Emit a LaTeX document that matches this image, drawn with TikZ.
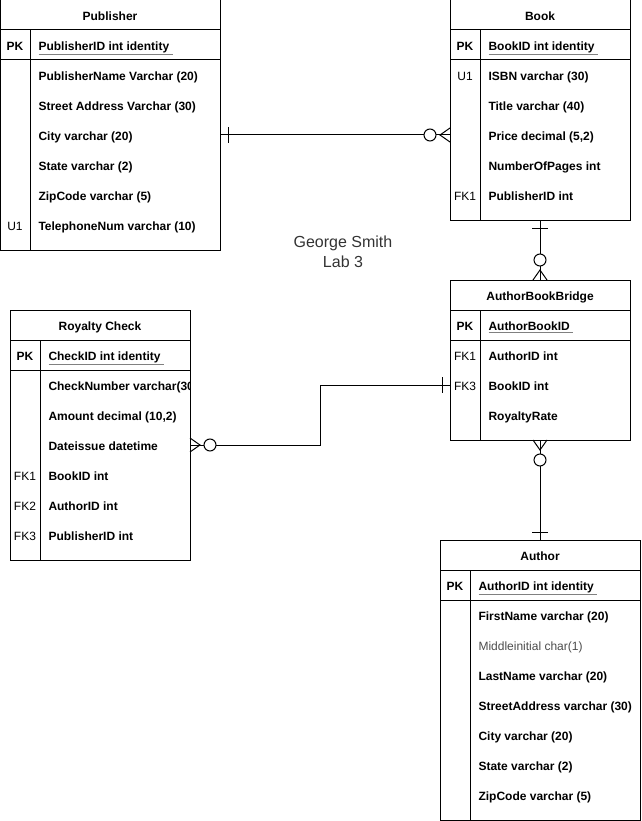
\documentclass[tikz,border=0pt]{standalone}
\usepackage{fontspec}
\setmainfont{Liberation Sans}
\newcommand{\pkname}[1]{{\color{black!50}\underline{\color{black}#1\ }}}
\tikzset{
  tbl/.style={draw, anchor=north west, inner sep=0pt, outer sep=0pt},
  txt/.style={inner sep=0pt, text height=11pt, text depth=0pt, font=\fontsize{12}{14}\selectfont},
  hdr/.style={txt, font=\fontsize{12}{14}\selectfont\bfseries},
  fld/.style={txt, anchor=west, font=\fontsize{12}{14}\selectfont\bfseries},
  keycol/.style={txt},
  pkcol/.style={txt, font=\fontsize{12}{14}\selectfont\bfseries},
  zeromany/.pic={\draw (0,7) -- (10,0) -- (0,-7); \draw[fill=white] (20,0) circle (6pt);},
  onebar/.pic={\draw (8,8) -- (8,-8);}
}
\begin{document}
\begin{tikzpicture}[x=1pt, y=-1pt, line width=1pt]
\useasboundingbox (0,0) rectangle (641,821);

% Table Publisher
\node[tbl, minimum width=220pt, minimum height=250pt] (publisher) at (0,0) {};
\draw (0,30) -- (220,30);
\draw (0,60) -- (220,60);
\draw (30,30) -- (30,250);
\node[hdr] (phead) at (110,15) {Publisher};
\node[pkcol] (ppk) at (15,45) {PK};
\node[fld] (pid) at (38,45) {\pkname{PublisherID int identity}};
\node[fld] (pname) at (38,75) {PublisherName Varchar (20)};
\node[fld] (pstreet) at (38,105) {Street Address Varchar (30)};
\node[fld] (pcity) at (38,135) {City varchar (20)};
\node[fld] (pstate) at (38,165) {State varchar (2)};
\node[fld] (pzip) at (38,195) {ZipCode varchar (5)};
\node[keycol] (pu1) at (15,225) {U1};
\node[fld] (ptel) at (38,225) {TelephoneNum varchar (10)};

% Table Book
\node[tbl, minimum width=180pt, minimum height=220pt] (book) at (450,0) {};
\draw (450,30) -- (630,30);
\draw (450,60) -- (630,60);
\draw (480,30) -- (480,220);
\node[hdr] (bhead) at (540,15) {Book};
\node[pkcol] (bpk) at (465,45) {PK};
\node[fld] (bid) at (488,45) {\pkname{BookID int identity}};
\node[keycol] (bu1) at (465,75) {U1};
\node[fld] (bisbn) at (488,75) {ISBN varchar (30)};
\node[fld] (btitle) at (488,105) {Title varchar (40)};
\node[fld] (bprice) at (488,135) {Price decimal (5,2)};
\node[fld] (bpages) at (488,165) {NumberOfPages int};
\node[keycol] (bfk1) at (465,195) {FK1};
\node[fld] (bpub) at (488,195) {PublisherID int};

% Table AuthorBookBridge
\node[tbl, minimum width=180pt, minimum height=160pt] (bridge) at (450,280) {};
\draw (450,310) -- (630,310);
\draw (450,340) -- (630,340);
\draw (480,310) -- (480,440);
\node[hdr] (ghead) at (540,295) {AuthorBookBridge};
\node[pkcol] (gpk) at (465,325) {PK};
\node[fld] (gid) at (488,325) {\pkname{AuthorBookID}};
\node[keycol] (gfk1) at (465,355) {FK1};
\node[fld] (gauthor) at (488,355) {AuthorID int};
\node[keycol] (gfk3) at (465,385) {FK3};
\node[fld] (gbook) at (488,385) {BookID int};
\node[fld] (grate) at (488,415) {RoyaltyRate};

% Table Royalty Check
\node[tbl, minimum width=180pt, minimum height=250pt] (royalty) at (10,310) {};
\draw (10,340) -- (190,340);
\draw (10,370) -- (190,370);
\draw (40,340) -- (40,560);
\node[hdr] (rhead) at (100,325) {Royalty Check};
\node[pkcol] (rpk) at (25,355) {PK};
\node[fld] (rid) at (48,355) {\pkname{CheckID int identity}};
\begin{scope}
\clip (40,370) rectangle (189.5,400);
\node[fld] (rnum) at (48,385) {CheckNumber varchar(30)};
\end{scope}
\node[fld] (ramount) at (48,415) {Amount decimal (10,2)};
\node[fld] (rdate) at (48,445) {Dateissue datetime};
\node[keycol] (rfk1) at (25,475) {FK1};
\node[fld] (rbook) at (48,475) {BookID int};
\node[keycol] (rfk2) at (25,505) {FK2};
\node[fld] (rauthor) at (48,505) {AuthorID int};
\node[keycol] (rfk3) at (25,535) {FK3};
\node[fld] (rpub) at (48,535) {PublisherID int};

% Table Author
\node[tbl, minimum width=200pt, minimum height=280pt] (author) at (440,540) {};
\draw (440,570) -- (640,570);
\draw (440,600) -- (640,600);
\draw (470,570) -- (470,820);
\node[hdr] (ahead) at (540,555) {Author};
\node[pkcol] (apk) at (455,585) {PK};
\node[fld] (aid) at (478,585) {\pkname{AuthorID int identity}};
\node[fld] (afirst) at (478,615) {FirstName varchar (20)};
\node[fld, font=\fontsize{12}{14}\selectfont, text=black!70] (amiddle) at (478,645) {Middleinitial char(1)};
\node[fld] (alast) at (478,675) {LastName varchar (20)};
\node[fld] (astreet) at (478,705) {StreetAddress varchar (30)};
\node[fld] (acity) at (478,735) {City varchar (20)};
\node[fld] (astate) at (478,765) {State varchar (2)};
\node[fld] (azip) at (478,795) {ZipCode varchar (5)};

% Caption
\node[inner sep=0pt, font=\fontsize{16}{20}\selectfont, text=black!80, align=center] (caption) at (343,252) {George Smith\\Lab 3};

% Publisher to Book
\draw (publisher.east |- pcity) -- (book.west |- bprice);
\pic at (publisher.east |- pcity) {onebar};
\pic[rotate=180] at (book.west |- bprice) {zeromany};

% Book to AuthorBookBridge
\draw (book.south) -- (bridge.north);
\pic[rotate=-90] at (book.south) {onebar};
\pic[rotate=90] at (bridge.north) {zeromany};

% AuthorBookBridge to Author
\draw (bridge.south) -- (author.north);
\pic[rotate=-90] at (bridge.south) {zeromany};
\pic[rotate=90] at (author.north) {onebar};

% Royalty Check to AuthorBookBridge
\draw (royalty.east |- rdate) -- ++(130,0) |- (bridge.west |- gbook);
\pic at (royalty.east |- rdate) {zeromany};
\pic[rotate=180] at (bridge.west |- gbook) {onebar};
\end{tikzpicture}
\end{document}
